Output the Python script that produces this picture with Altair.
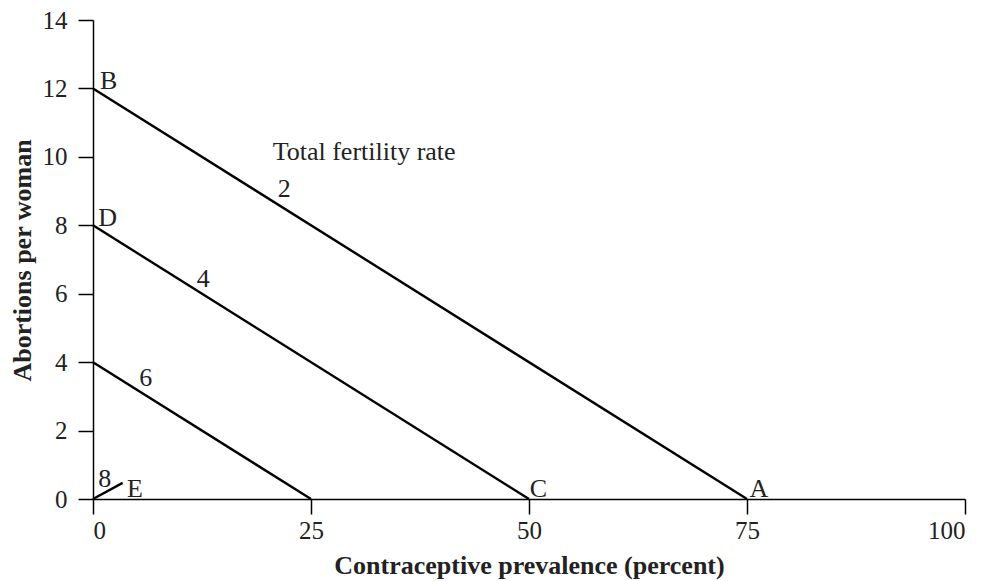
import altair as alt
import pandas as pd

# Iso-fertility lines (Total fertility rate), endpoints
line_series = ["TFR 2", "TFR 2", "TFR 4", "TFR 4", "TFR 6", "TFR 6", "TFR 8", "TFR 8"]
line_x = [0, 75, 0, 50, 0, 25, 0, 3.4]
line_y = [12, 0, 8, 0, 4, 0, 0, 0.47]

# Text annotations (data coordinates of each label's left baseline)
label_text = ["B", "D", "E", "A", "C", "2", "4", "6", "8", "Total fertility rate"]
label_x = [0.8, 0.6, 3.9, 75.3, 50.1, 21.2, 11.9, 5.3, 0.6, 20.6]
label_y = [11.98, 7.98, 0.06, 0.06, 0.06, 8.83, 6.2, 3.3, 0.35, 9.91]

x_ticks = [0, 25, 50, 75, 100]
y_ticks = [0, 2, 4, 6, 8, 10, 12, 14]

lines_df = pd.DataFrame({"series": line_series, "x": line_x, "y": line_y})
labels_df = pd.DataFrame({"text": label_text, "x": label_x, "y": label_y})

xscale = alt.Scale(domain=[0, 100], nice=False, zero=True)
yscale = alt.Scale(domain=[0, 14], nice=False)

lines = alt.Chart(lines_df).mark_line(color="black", strokeWidth=2.4).encode(
    x=alt.X("x:Q", scale=xscale,
            axis=alt.Axis(values=x_ticks, title="Contraceptive prevalence (percent)",
                          titleY=74, titleBaseline="alphabetic")),
    y=alt.Y("y:Q", scale=yscale,
            axis=alt.Axis(values=y_ticks, title="Abortions per woman",
                          titleX=-71, titleY=240, titleBaseline="middle", titleAngle=-90)),
    detail="series:N",
)

labels = alt.Chart(labels_df).mark_text(
    align="left", baseline="alphabetic", font="Liberation Serif", fontSize=26, color="#222"
).encode(
    x=alt.X("x:Q", scale=xscale),
    y=alt.Y("y:Q", scale=yscale),
    text="text:N",
)

chart = (lines + labels).properties(
    width=872, height=479,
    autosize=alt.AutoSizeParams(type="none"),
    padding={"left": 85, "top": 12, "right": 16, "bottom": 90},
).configure_view(stroke=None).configure_axis(
    grid=False,
    domainColor="black", domainWidth=1.5,
    tickColor="black", tickWidth=1.5, tickSize=15,
    labelFont="Liberation Serif", labelFontSize=25, labelColor="#222",
    titleFont="Liberation Serif", titleFontSize=26, titleFontWeight="bold", titleColor="#222",
).configure_axisY(labelPadding=11).configure_axisX(labelPadding=4)

chart.save("out.html", embed_options={"renderer": "svg", "actions": False})
